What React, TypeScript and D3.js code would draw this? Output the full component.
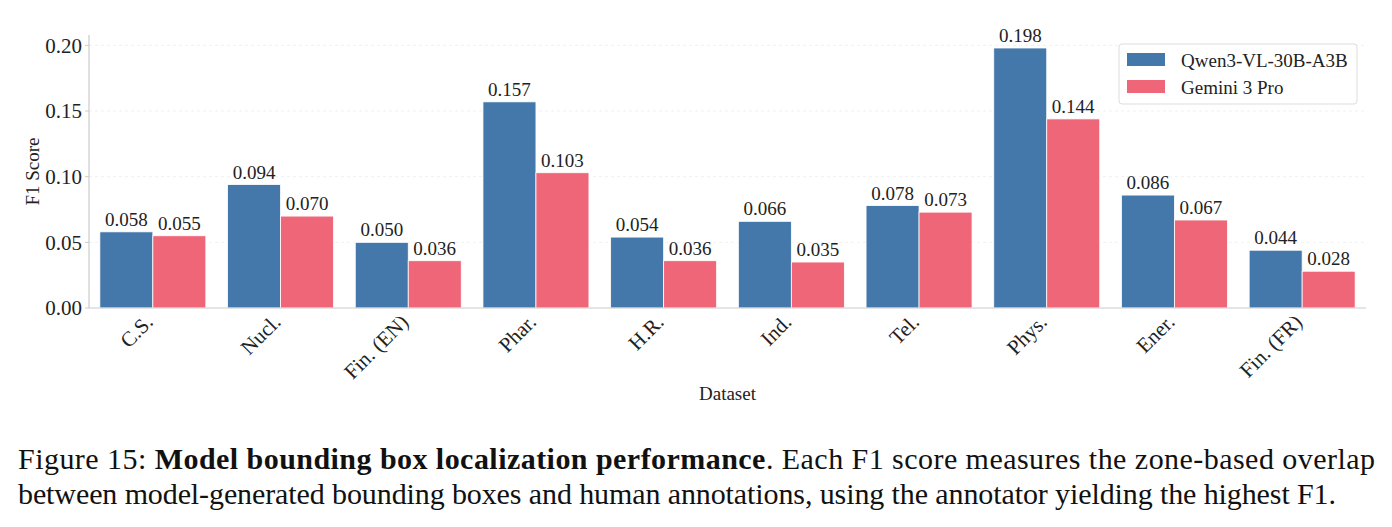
import { useEffect, useRef } from 'react';
import * as d3 from 'd3';

const datasets = ['C.S.', 'Nucl.', 'Fin. (EN)', 'Phar.', 'H.R.', 'Ind.', 'Tel.', 'Phys.', 'Ener.', 'Fin. (FR)'];
const models = ['Qwen3-VL-30B-A3B', 'Gemini 3 Pro'];
const qwenScores = [0.058, 0.094, 0.050, 0.157, 0.054, 0.066, 0.078, 0.198, 0.086, 0.044];
const geminiScores = [0.055, 0.070, 0.036, 0.103, 0.036, 0.035, 0.073, 0.144, 0.067, 0.028];
const yTicks = [0, 0.05, 0.1, 0.15, 0.2];
const colors = ['#4477AA', '#EE6677'];

const W = 1392;
const H = 527;
const SERIF = '"Liberation Serif", "DejaVu Serif", serif';

export default function App() {
  const svgRef = useRef<SVGSVGElement>(null);

  useEffect(() => {
    if (!svgRef.current) return;
    const svg = d3.select(svgRef.current);
    svg.selectAll('*').remove();

    const left = 89, right = 1366, top = 35, bottom = 308;
    const series = [qwenScores, geminiScores];

    const x = d3.scaleBand<string>().domain(datasets).range([left, right]).padding(0);
    const groupW = x.bandwidth() * 0.83;
    const xs = d3.scaleBand<string>().domain(models).range([0, groupW]).padding(0);
    const y = d3.scaleLinear().domain([0, 0.198 * 1.05]).range([bottom, top]);
    const barX = (i: number, si: number) =>
      (x(datasets[i]) as number) + (x.bandwidth() - groupW) / 2 + (xs(models[si]) as number);

    // grid
    svg.append('g')
      .selectAll('line')
      .data(yTicks.slice(1))
      .join('line')
      .attr('x1', left).attr('x2', right)
      .attr('y1', d => y(d)).attr('y2', d => y(d))
      .attr('stroke', '#ececec')
      .attr('stroke-width', 0.8)
      .attr('stroke-dasharray', '3,3');

    // bars + value labels
    series.forEach((vals, si) => {
      const g = svg.append('g');
      g.selectAll('rect')
        .data(vals)
        .join('rect')
        .attr('x', (_, i) => barX(i, si))
        .attr('y', d => y(d))
        .attr('width', xs.bandwidth())
        .attr('height', d => y(0) - y(d))
        .attr('fill', colors[si])
        .attr('stroke', '#ffffff')
        .attr('stroke-width', 0.8);

      g.selectAll('text')
        .data(vals)
        .join('text')
        .attr('x', (_, i) => barX(i, si) + xs.bandwidth() / 2)
        .attr('y', d => y(d) - 6)
        .attr('text-anchor', 'middle')
        .attr('font-family', SERIF)
        .attr('font-size', 19)
        .attr('fill', '#222')
        .text(d => d.toFixed(3));
    });

    // spines
    svg.append('line')
      .attr('x1', left).attr('x2', left).attr('y1', top).attr('y2', bottom)
      .attr('stroke', '#cccccc').attr('stroke-width', 1.2);
    svg.append('line')
      .attr('x1', left).attr('x2', right).attr('y1', bottom).attr('y2', bottom)
      .attr('stroke', '#cccccc').attr('stroke-width', 1.2);

    // y ticks
    const yt = svg.append('g');
    yTicks.forEach(t => {
      yt.append('line')
        .attr('x1', left - 4).attr('x2', left).attr('y1', y(t)).attr('y2', y(t))
        .attr('stroke', '#cccccc');
      yt.append('text')
        .attr('x', left - 7).attr('y', y(t))
        .attr('dy', '0.35em')
        .attr('text-anchor', 'end')
        .attr('font-family', SERIF)
        .attr('font-size', 21)
        .attr('fill', '#222')
        .text(t.toFixed(2));
    });

    // x tick labels, rotated 45°
    svg.append('g')
      .selectAll('text')
      .data(datasets)
      .join('text')
      .attr('transform', d => `translate(${(x(d) as number) + x.bandwidth() / 2 - 9},${bottom + 5}) rotate(-45)`)
      .attr('text-anchor', 'end')
      .attr('dy', '0.7em')
      .attr('font-family', SERIF)
      .attr('font-size', 21)
      .attr('fill', '#222')
      .text(d => d);

    // axis titles
    svg.append('text')
      .attr('x', (left + right) / 2).attr('y', 400)
      .attr('text-anchor', 'middle')
      .attr('font-family', SERIF).attr('font-size', 19).attr('fill', '#222')
      .text('Dataset');
    svg.append('text')
      .attr('transform', `translate(39,${(top + bottom) / 2}) rotate(-90)`)
      .attr('text-anchor', 'middle')
      .attr('font-family', SERIF).attr('font-size', 19).attr('fill', '#222')
      .text('F1 Score');

    // legend
    const lg = svg.append('g').attr('transform', 'translate(1119,44)');
    lg.append('rect')
      .attr('width', 238).attr('height', 60).attr('rx', 3)
      .attr('fill', '#fff').attr('stroke', '#dddddd');
    models.forEach((m, i) => {
      lg.append('rect')
        .attr('x', 8).attr('y', 9 + i * 27).attr('width', 38).attr('height', 13)
        .attr('fill', colors[i]);
      lg.append('text')
        .attr('x', 62).attr('y', 16 + i * 27).attr('dy', '0.35em')
        .attr('font-family', SERIF).attr('font-size', 19).attr('fill', '#222')
        .text(m);
    });

    // caption
    const cap1 = svg.append('text')
      .attr('x', 18).attr('y', 469)
      .attr('font-family', SERIF).attr('font-size', 30).attr('fill', '#111')
      .attr('textLength', 1357).attr('lengthAdjust', 'spacing');
    cap1.append('tspan').text('Figure 15: ');
    cap1.append('tspan').attr('font-weight', 'bold').text('Model bounding box localization performance');
    cap1.append('tspan').text('. Each F1 score measures the zone-based overlap');
    svg.append('text')
      .attr('x', 18).attr('y', 504)
      .attr('font-family', SERIF).attr('font-size', 30).attr('fill', '#111')
      .attr('textLength', 1318).attr('lengthAdjust', 'spacing')
      .text('between model-generated bounding boxes and human annotations, using the annotator yielding the highest F1.');
  }, []);

  return (
    <div style={{ margin: -8 }}>
      <svg ref={svgRef} width={W} height={H} style={{ display: 'block', background: '#fff' }} />
    </div>
  );
}
